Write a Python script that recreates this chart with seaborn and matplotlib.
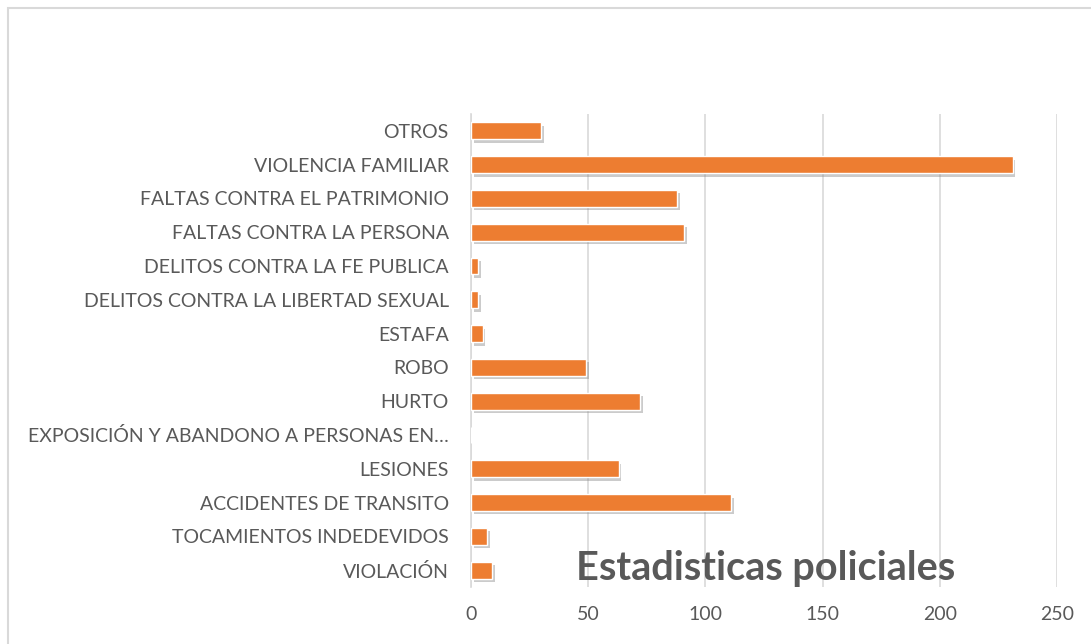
import seaborn as sns
import matplotlib.pyplot as plt
import matplotlib.patheffects as pe
from matplotlib.patches import Rectangle
import pandas as pd

# categories (top to bottom as shown in the chart)
categorias = [
    "OTROS",
    "VIOLENCIA FAMILIAR",
    "FALTAS CONTRA EL PATRIMONIO",
    "FALTAS CONTRA LA PERSONA",
    "DELITOS CONTRA LA FE PUBLICA",
    "DELITOS CONTRA LA LIBERTAD SEXUAL",
    "ESTAFA",
    "ROBO",
    "HURTO",
    "EXPOSICIÓN Y ABANDONO A PERSONAS EN…",
    "LESIONES",
    "ACCIDENTES DE TRANSITO",
    "TOCAMIENTOS INDEDEVIDOS",
    "VIOLACIÓN",
]
casos = [30, 231, 88, 91, 3, 3, 5, 49, 72, 0, 63, 111, 7, 9]
x_ticks = [0, 50, 100, 150, 200, 250]

df = pd.DataFrame({"categoria": categorias, "casos": casos})

sns.set_style("white")
plt.rcParams["font.family"] = ["Lato", "DejaVu Sans"]

gris = "#595959"
naranja = "#ED7D31"

fig = plt.figure(figsize=(10.91, 6.44), dpi=100)
ax = fig.add_axes([0.4317, 0.0885, 0.5372, 0.7345])

sns.barplot(data=df, x="casos", y="categoria", orient="h", color=naranja,
            saturation=1, width=0.5, ax=ax, zorder=3)

for bar in ax.patches:
    bar.set_path_effects([pe.SimplePatchShadow(offset=(2, -2.5), shadow_rgbFace="#8c8c8c", alpha=0.45),
                          pe.Normal()])

ax.set_xlim(0, 250)
ax.set_xticks(x_ticks)
ax.grid(axis="x", color="#D9D9D9", linewidth=1.2, zorder=0)
ax.set_axisbelow(True)
for side in ["top", "right", "bottom"]:
    ax.spines[side].set_visible(False)
ax.spines["left"].set_color("#D9D9D9")
ax.spines["left"].set_linewidth(1.2)

ax.set_xlabel("")
ax.set_ylabel("")
ax.tick_params(axis="both", length=0, labelsize=14, labelcolor=gris)
ax.tick_params(axis="x", pad=14)
ax.tick_params(axis="y", pad=16)

# title sitting inside the plot area, lower right
fig.text(0.702, 0.118, "Estadisticas policiales", fontsize=28.5, fontweight="bold",
         color=gris, ha="center", va="center")

# chart area border
fig.patches.append(Rectangle((8 / 1091, -0.2), 1.2, 1.2 - 8 / 644,
                             transform=fig.transFigure, fill=False,
                             edgecolor="#D9D9D9", linewidth=1.5))

plt.savefig("out.png", dpi=100)
